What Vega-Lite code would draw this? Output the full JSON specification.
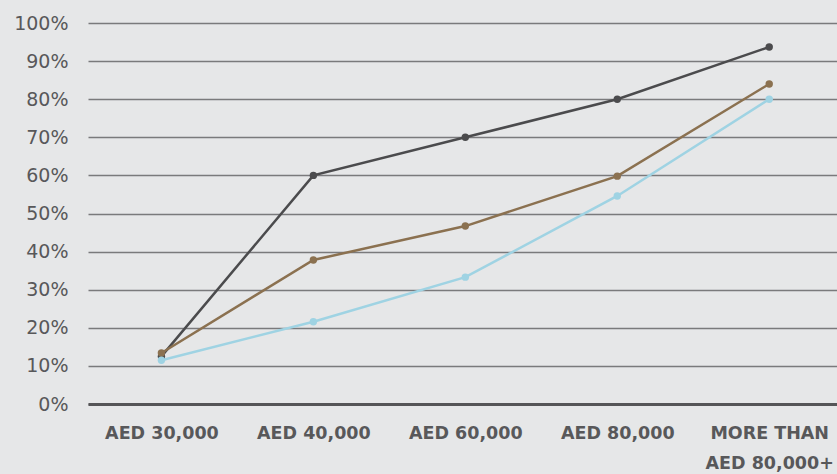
{
  "$schema": "https://vega.github.io/schema/vega-lite/v6.json",
  "autosize": {"type": "none"},
  "width": 749,
  "height": 381,
  "padding": {"left": 88, "top": 23, "right": 0, "bottom": 70},
  "background": "#e6e7e8",
  "config": {"view": {"stroke": null}, "font": "DejaVu Sans"},
  "data": {"values": [
    {"band": "AED 30,000", "series": "A", "value": 12.5},
    {"band": "AED 40,000", "series": "A", "value": 60},
    {"band": "AED 60,000", "series": "A", "value": 70},
    {"band": "AED 80,000", "series": "A", "value": 80},
    {"band": "MORE THAN AED 80,000+", "series": "A", "value": 93.7},
    {"band": "AED 30,000", "series": "B", "value": 13.4},
    {"band": "AED 40,000", "series": "B", "value": 37.8},
    {"band": "AED 60,000", "series": "B", "value": 46.7},
    {"band": "AED 80,000", "series": "B", "value": 59.8},
    {"band": "MORE THAN AED 80,000+", "series": "B", "value": 84},
    {"band": "AED 30,000", "series": "C", "value": 11.5},
    {"band": "AED 40,000", "series": "C", "value": 21.6},
    {"band": "AED 60,000", "series": "C", "value": 33.3},
    {"band": "AED 80,000", "series": "C", "value": 54.6},
    {"band": "MORE THAN AED 80,000+", "series": "C", "value": 80}
  ]},
  "encoding": {
    "x": {
      "field": "band", "type": "ordinal",
      "sort": ["AED 30,000", "AED 40,000", "AED 60,000", "AED 80,000", "MORE THAN AED 80,000+"],
      "scale": {"type": "point", "padding": 0.4646, "align": 0.52},
      "axis": {
        "title": null, "labelAngle": 0, "ticks": false,
        "domain": true, "domainColor": "#555557", "domainWidth": 3,
        "labelFont": "DejaVu Sans", "labelFontSize": 17.5, "labelFontWeight": "bold",
        "labelColor": "#58585a", "labelPadding": 20, "labelLineHeight": 30,
        "labelExpr": "datum.value == 'MORE THAN AED 80,000+' ? ['MORE THAN', 'AED 80,000+'] : datum.value",
        "grid": false
      }
    },
    "y": {
      "field": "value", "type": "quantitative",
      "scale": {"domain": [0, 100], "nice": false},
      "axis": {
        "title": null, "values": [0,10,20,30,40,50,60,70,80,90,100],
        "labelExpr": "datum.value + '%'",
        "ticks": false, "domain": false,
        "labelFont": "DejaVu Sans",
        "labelFontSize": 19, "labelColor": "#58585a", "labelPadding": 20,
        "gridColor": "#7a7a7c", "gridWidth": 1.5
      }
    },
    "color": {
      "field": "series", "type": "nominal",
      "scale": {"domain": ["A", "B", "C"], "range": ["#4b4b4d", "#8b7150", "#9fd3e3"]},
      "legend": null
    }
  },
  "layer": [
    {"mark": {"type": "line", "strokeWidth": 2.5}},
    {"mark": {"type": "point", "filled": true, "size": 55, "opacity": 1}}
  ]
}
